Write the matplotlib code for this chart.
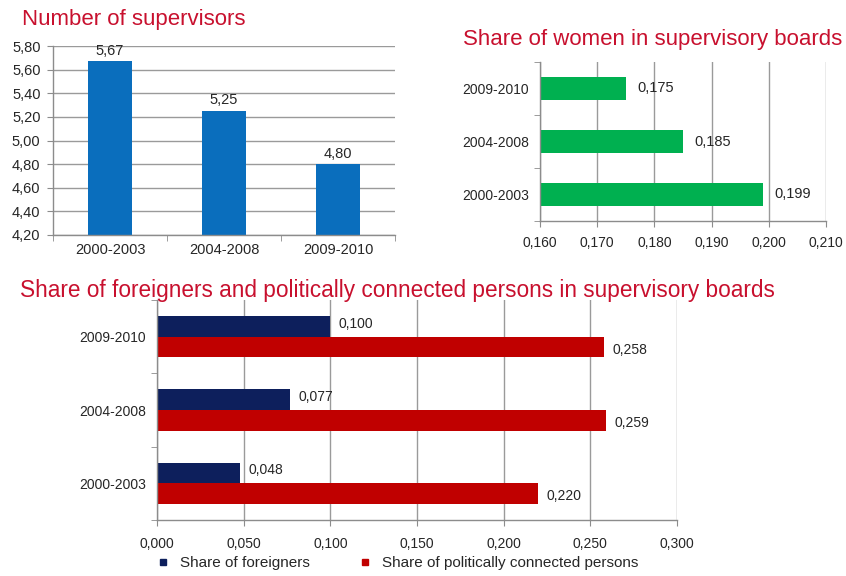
import matplotlib
matplotlib.use("Agg")
import matplotlib.pyplot as plt
from matplotlib.ticker import FuncFormatter, FixedLocator
from matplotlib.lines import Line2D

plt.rcParams['font.family'] = ['Liberation Sans', 'DejaVu Sans']

# ---- data ----
periods_cols = ["2000-2003", "2004-2008", "2009-2010"]
supervisors = [5.67, 5.25, 4.80]

periods_bars = ["2000-2003", "2004-2008", "2009-2010"]
women_share = [0.199, 0.185, 0.175]

foreigners_share = [0.048, 0.077, 0.100]
political_share = [0.220, 0.259, 0.258]

title1 = "Number of supervisors"
title2 = "Share of women in supervisory boards"
title3 = "Share of foreigners and politically connected persons in supervisory boards"
legend_labels = ["Share of foreigners", "Share of politically connected persons"]

W, H = 846, 576
fig = plt.figure(figsize=(W / 100, H / 100), dpi=100)
fig.patch.set_facecolor("white")

def px_axes(l, t, r, b):
    return fig.add_axes([l / W, 1 - b / H, (r - l) / W, (b - t) / H])

def comma(dec):
    return FuncFormatter(lambda v, p: f"{v:.{dec}f}".replace(".", ","))

grid_c = "#9a9a9a"
spine_c = "#8c8c8c"
txt_c = "#262626"
red_title = "#c8102e"

def style(ax):
    for s in ["top", "right"]:
        ax.spines[s].set_visible(False)
    for s in ["left", "bottom"]:
        ax.spines[s].set_color(spine_c)
        ax.spines[s].set_linewidth(1.0)
    ax.tick_params(colors=spine_c, labelcolor=txt_c, labelsize=10, length=4)
    ax.set_axisbelow(True)

# ---- chart 1 ----
ax1 = px_axes(53, 46, 395, 235)
style(ax1)
x = range(len(periods_cols))
ax1.bar(x, supervisors, width=0.39, color="#0a6ebd")
ax1.set_xlim(-0.5, 2.5)
ax1.set_ylim(4.2, 5.8)
ax1.set_yticks([4.2 + 0.2 * i for i in range(9)])
ax1.yaxis.set_major_formatter(comma(2))
ax1.tick_params(axis="y", labelsize=10.5, pad=5)
ax1.set_xticks(list(x))
ax1.set_xticklabels(periods_cols)
ax1.tick_params(axis="x", length=0, pad=6, labelsize=10.5)
ax1.xaxis.set_minor_locator(FixedLocator([-0.5, 0.5, 1.5, 2.5]))
ax1.tick_params(axis="x", which="minor", length=4, color=spine_c)
ax1.grid(axis="y", color=grid_c, linewidth=1.0)
for i, v in enumerate(supervisors):
    ax1.text(i, v + 0.03, f"{v:.2f}".replace(".", ","), ha="center", va="bottom",
             fontsize=10.5, color=txt_c)
fig.text(22 / W, 1 - 20 / H, title1, fontsize=16, color=red_title, va="center", ha="left")

# ---- chart 2 ----
ax2 = px_axes(540, 62, 826, 221)
style(ax2)
y = range(len(periods_bars))
ax2.barh(y, women_share, height=0.42, color="#00b050")
ax2.set_xlim(0.16, 0.21)
ax2.set_ylim(-0.5, 2.5)
ax2.set_xticks([0.16 + 0.01 * i for i in range(6)])
ax2.xaxis.set_major_formatter(comma(3))
ax2.set_yticks(list(y))
ax2.set_yticklabels(periods_bars)
ax2.tick_params(axis="y", length=0, pad=8, labelsize=10)
ax2.yaxis.set_minor_locator(FixedLocator([-0.5, 0.5, 1.5, 2.5]))
ax2.tick_params(axis="y", which="minor", length=4, color=spine_c)
ax2.tick_params(axis="x", pad=7)
ax2.grid(axis="x", color=grid_c, linewidth=1.0)
for i, v in enumerate(women_share):
    ax2.annotate(f"{v:.3f}".replace(".", ","), (v, i), xytext=(8, 0),
                 textcoords="offset points", va="center", ha="left",
                 fontsize=10.5, color=txt_c)
fig.text(463 / W, 1 - 40 / H, title2, fontsize=16, color=red_title, va="center", ha="left")

# ---- chart 3 ----
ax3 = px_axes(157, 300, 677, 520)
style(ax3)
h = 0.28
yy = list(range(len(periods_bars)))
ax3.barh([v + h / 2 for v in yy], foreigners_share, height=h, color="#0d1f5c",
         label=legend_labels[0])
ax3.barh([v - h / 2 for v in yy], political_share, height=h, color="#c00000",
         label=legend_labels[1])
ax3.set_xlim(0, 0.3)
ax3.set_ylim(-0.5, 2.5)
ax3.set_xticks([0.05 * i for i in range(7)])
ax3.xaxis.set_major_formatter(comma(3))
ax3.set_yticks(yy)
ax3.set_yticklabels(periods_bars)
ax3.tick_params(axis="y", length=0, pad=8, labelsize=10)
ax3.yaxis.set_minor_locator(FixedLocator([-0.5, 0.5, 1.5, 2.5]))
ax3.tick_params(axis="y", which="minor", length=4, color=spine_c)
ax3.tick_params(axis="x", pad=8)
ax3.grid(axis="x", color=grid_c, linewidth=1.0)
for i in yy:
    v = foreigners_share[i]
    ax3.annotate(f"{v:.3f}".replace(".", ","), (v, i + h / 2), xytext=(6, 2),
                 textcoords="offset points", va="center", ha="left",
                 fontsize=10, color=txt_c)
    v = political_share[i]
    ax3.annotate(f"{v:.3f}".replace(".", ","), (v, i - h / 2), xytext=(6, -2),
                 textcoords="offset points", va="center", ha="left",
                 fontsize=10, color=txt_c)
fig.text(20 / W, 1 - 290 / H, title3, fontsize=16.3, color=red_title, va="center", ha="left")

handles = [Line2D([], [], marker="s", linestyle="none", markersize=5, color="#0d1f5c"),
           Line2D([], [], marker="s", linestyle="none", markersize=5, color="#c00000")]
fig.legend(handles, legend_labels, loc="center left", bbox_to_anchor=(142 / W, 1 - 563 / H),
           ncol=2, frameon=False, fontsize=11, handlelength=1.0, handletextpad=0.6,
           columnspacing=3.1, labelcolor=txt_c)

fig.savefig("out.png", dpi=100, facecolor="white")
